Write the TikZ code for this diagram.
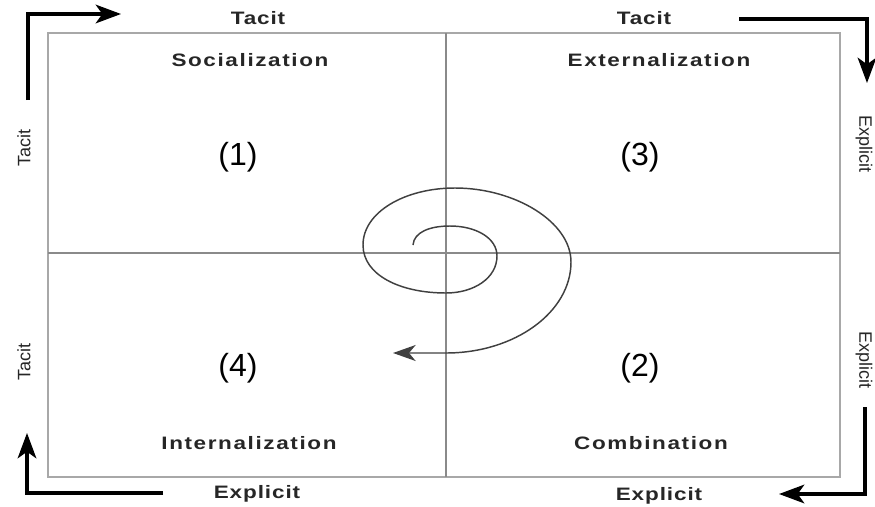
\documentclass[tikz,border=0pt]{standalone}
\usepackage{fontspec}
\setmainfont{Liberation Sans}
\newfontfamily\titlefont[LetterSpace=9,FakeStretch=1.25]{Liberation Sans}
\newfontfamily\axisfont[LetterSpace=5,FakeStretch=1.25]{Liberation Sans}
\usetikzlibrary{arrows.meta}
\definecolor{boxgray}{HTML}{A8A8A8}
\definecolor{crossgray}{HTML}{8A8A8A}
\definecolor{txt}{HTML}{262626}
\tikzset{
  boxline/.style={draw=boxgray,line width=1.2pt},
  crossline/.style={draw=crossgray,line width=1.1pt},
  bigarrow/.style={draw=black,line width=2.3pt,-{Stealth[length=19pt,width=14pt,inset=5pt]}},
  spiral/.style={draw=black!75,line width=1.1pt,-{Stealth[length=17pt,width=12pt,inset=5pt]}},
  axislabel/.style={text=txt,font=\axisfont\bfseries\fontsize{13.5}{16}\selectfont,inner sep=0pt},
  sidelabel/.style={text=txt,font=\fontsize{13.5}{16}\selectfont,inner sep=0pt},
  title/.style={text=txt,font=\titlefont\bfseries\fontsize{13.5}{16}\selectfont,inner sep=0pt},
  num/.style={text=black,font=\fontsize{24}{28}\selectfont,inner sep=0pt}
}
\begin{document}
\begin{tikzpicture}[x=0.75pt,y=-0.75pt]
\useasboundingbox (0,0) rectangle (875,507);
% box and cross
\draw[boxline] (48,33) rectangle (840,477);
\coordinate (ctop) at (446,33);
\coordinate (cbot) at (446,477);
\coordinate (cleft) at (48,253);
\coordinate (cright) at (840,253);
\draw[crossline] (ctop) -- (cbot);
\draw[crossline] (cleft) -- (cright);
% quadrant titles
\node[title] (soc) at (250,60) {Socialization};
\node[title] (ext) at (659,60) {Externalization};
\node[title] (int) at (249,443) {Internalization};
\node[title] (comb) at (651,443) {Combination};
% numbers
\node[num] (n1) at (238,157) {(1)};
\node[num] (n3) at (640,157) {(3)};
\node[num] (n4) at (238,368) {(4)};
\node[num] (n2) at (640,368) {(2)};
% axis labels
\node[axislabel] (tacitL) at (258,18) {Tacit};
\node[axislabel] (tacitR) at (644,18) {Tacit};
\node[axislabel] (explL) at (257,494) {Explicit};
\node[axislabel] (explR) at (659,496) {Explicit};
\node[sidelabel,rotate=90] (sideT1) at (24,148) {Tacit};
\node[sidelabel,rotate=90] (sideT2) at (24,362) {Tacit};
\node[sidelabel,rotate=-90] (sideE1) at (864,144) {Explicit};
\node[sidelabel,rotate=-90] (sideE2) at (864,360) {Explicit};
% L-shaped arrows
\coordinate (a1s) at (28,100);
\coordinate (a1e) at (121,14);
\draw[bigarrow] (a1s) |- (a1e);
\coordinate (a2s) at (739,19);
\coordinate (a2e) at (867,83);
\draw[bigarrow] (a2s) -| (a2e);
\coordinate (a3s) at (865,407);
\coordinate (a3e) at (779,494);
\draw[bigarrow] (a3s) |- (a3e);
\coordinate (a4s) at (163,493);
\coordinate (a4e) at (27,433);
\draw[bigarrow] (a4s) -| (a4e);
% spiral
\coordinate (sp0) at (413,245);
\coordinate (spend) at (393,353);
\draw[spiral] (sp0)
  .. controls (414,232) and (430,226) .. (450,226)
  .. controls (476,226) and (497,238) .. (497,256)
  .. controls (497,278) and (474,293) .. (446,293)
  .. controls (400,293) and (363,275) .. (363,245)
  .. controls (363,212) and (405,188) .. (455,188)
  .. controls (515,188) and (571,222) .. (571,262)
  .. controls (571,312) and (515,353) .. (446,353)
  -- (spend);
\end{tikzpicture}
\end{document}
